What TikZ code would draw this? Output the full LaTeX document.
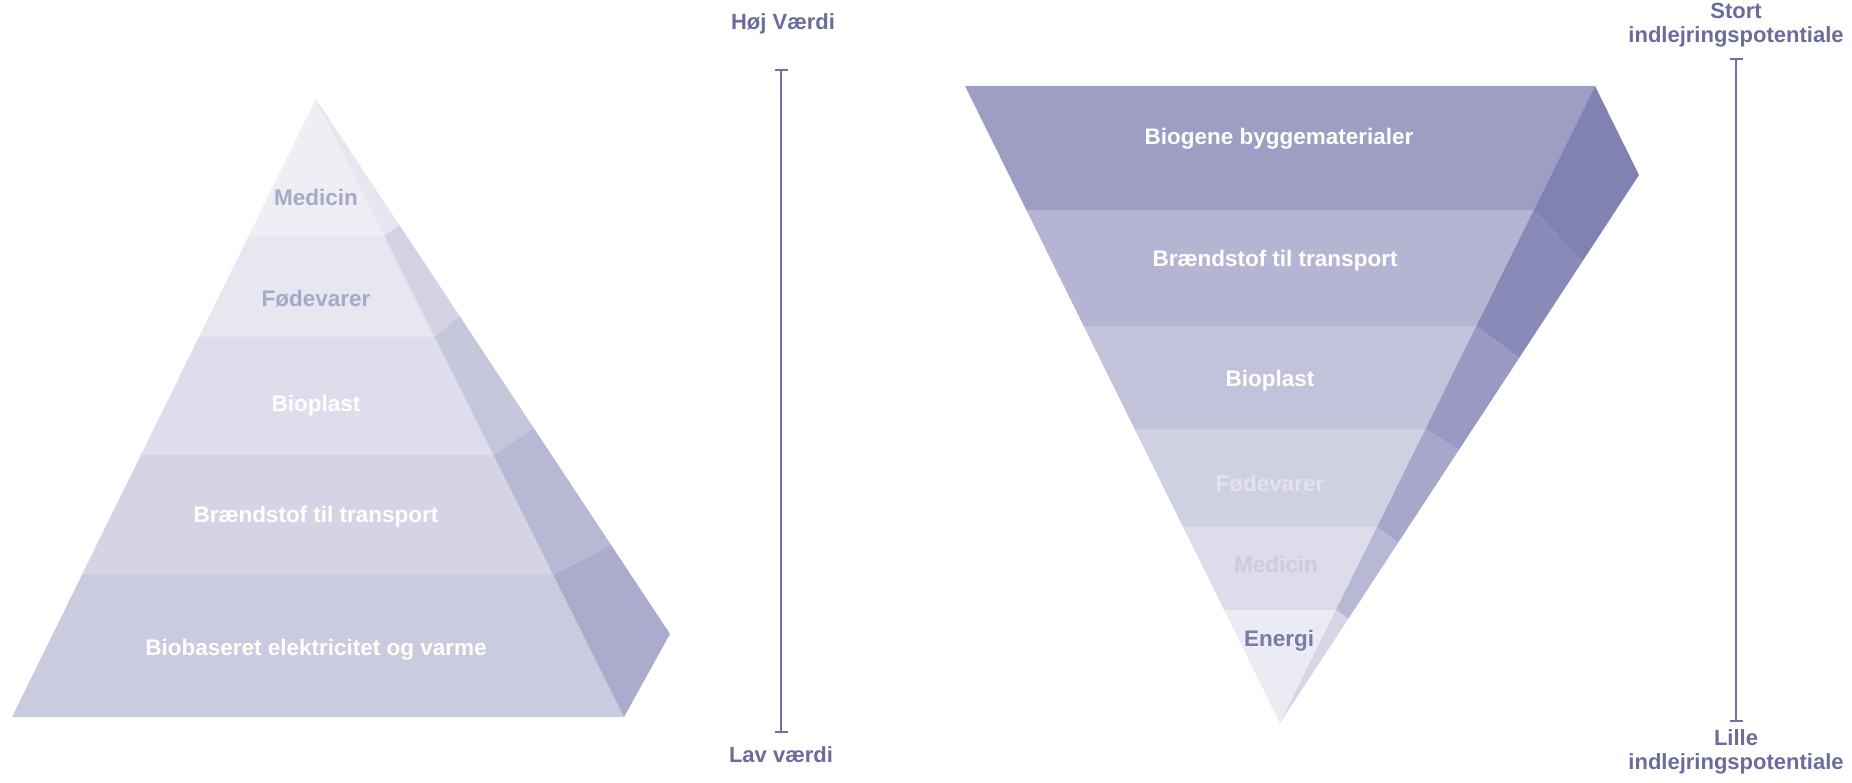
\documentclass[tikz,border=0pt]{standalone}
\usepackage{fontspec}
\setmainfont{Liberation Sans}
\usetikzlibrary{calc,arrows.meta}
% left pyramid front / side
\definecolor{lfa}{HTML}{EEEEF5}
\definecolor{lfb}{HTML}{E7E7F1}
\definecolor{lfc}{HTML}{DDDDEB}
\definecolor{lfd}{HTML}{D4D4E5}
\definecolor{lfe}{HTML}{CBCBE0}
\definecolor{lsa}{HTML}{E6E6F0}
\definecolor{lsb}{HTML}{D3D3E4}
\definecolor{lsc}{HTML}{C5C5DC}
\definecolor{lsd}{HTML}{B8B8D4}
\definecolor{lse}{HTML}{ABABCD}
% right pyramid front / side
\definecolor{rfa}{HTML}{9E9EC4}
\definecolor{rfb}{HTML}{B5B5D3}
\definecolor{rfc}{HTML}{C2C2DA}
\definecolor{rfd}{HTML}{D0D0E3}
\definecolor{rfe}{HTML}{DCDCEA}
\definecolor{rff}{HTML}{EBEBF3}
\definecolor{rsa}{HTML}{8282B2}
\definecolor{rsb}{HTML}{8A8AB8}
\definecolor{rsc}{HTML}{9999C3}
\definecolor{rsd}{HTML}{A7A7CC}
\definecolor{rse}{HTML}{B8B8D5}
\definecolor{rsf}{HTML}{D6D6E7}
% text colours
\definecolor{axc}{HTML}{6C6C9C}
\definecolor{barc}{HTML}{7070A6}
\definecolor{paletxt}{HTML}{A8A8C8}
\definecolor{fainttxt}{HTML}{E3E3EE}
\definecolor{medtxt}{HTML}{CCCCE0}
\definecolor{darktxt}{HTML}{7A7AA8}
\begin{document}
\begin{tikzpicture}[x=1pt,y=-1pt,
  lbl/.style={font=\bfseries\fontsize{22.5}{26}\selectfont, text=white, inner sep=0pt, anchor=center},
  axlbl/.style={font=\bfseries\fontsize{22}{23.5}\selectfont, text=axc, align=center, inner sep=0pt},
  scalebar/.style={draw=barc, line width=2.5pt, {Bar[width=13pt]}-{Bar[width=13pt]}},
]
\useasboundingbox (0,0) rectangle (1852,783);

% ---------------- left pyramid ----------------
\coordinate (A) at (316,99);
\coordinate (BL) at (12,717);
\coordinate (BR) at (624,717);
\coordinate (T) at (670,634);
\coordinate (L1) at ($(A)!0.2217!(BL)$);
\coordinate (L2) at ($(A)!0.3851!(BL)$);
\coordinate (L3) at ($(A)!0.5761!(BL)$);
\coordinate (L4) at ($(A)!0.7702!(BL)$);
\coordinate (R1) at ($(A)!0.2217!(BR)$);
\coordinate (R2) at ($(A)!0.3851!(BR)$);
\coordinate (R3) at ($(A)!0.5761!(BR)$);
\coordinate (R4) at ($(A)!0.7702!(BR)$);
\coordinate (K1) at ($(A)!0.2355!(T)$);
\coordinate (K2) at ($(A)!0.4056!(T)$);
\coordinate (K3) at ($(A)!0.6150!(T)$);
\coordinate (K4) at ($(A)!0.8336!(T)$);

\fill[lfa] (A) -- (R1) -- (L1) -- cycle;
\fill[lfb] (L1) -- (R1) -- (R2) -- (L2) -- cycle;
\fill[lfc] (L2) -- (R2) -- (R3) -- (L3) -- cycle;
\fill[lfd] (L3) -- (R3) -- (R4) -- (L4) -- cycle;
\fill[lfe] (L4) -- (R4) -- (BR) -- (BL) -- cycle;

\fill[lsa] (A) -- (K1) -- (R1) -- cycle;
\fill[lsb] (R1) -- (K1) -- (K2) -- (R2) -- cycle;
\fill[lsc] (R2) -- (K2) -- (K3) -- (R3) -- cycle;
\fill[lsd] (R3) -- (K3) -- (K4) -- (R4) -- cycle;
\fill[lse] (R4) -- (K4) -- (T) -- (BR) -- cycle;

\node[lbl, text=paletxt] (lmed) at (316,197) {Medicin};
\node[lbl, text=paletxt] (lfod) at (316,299) {Fødevarer};
\node[lbl] (lbio) at (316,406) {Bioplast};
\node[lbl] (lbra) at (316,517) {Brændstof til transport};
\node[lbl] (lele) at (316,650) {Biobaseret elektricitet og varme};

% ---------------- left scale ----------------
\node[axlbl] (hoj) at (783,24) {Høj Værdi};
\node[axlbl] (lav) at (781,755) {Lav værdi};
\coordinate (lt) at (781,69);
\coordinate (lb) at (781,733);
\draw[scalebar] (lt) -- (lb);

% ---------------- right pyramid ----------------
\coordinate (TL) at (965,86);
\coordinate (TR) at (1595,86);
\coordinate (P) at (1639,175);
\coordinate (V) at (1280,723);
\coordinate (M1) at ($(TL)!0.1947!(V)$);
\coordinate (M2) at ($(TL)!0.3768!(V)$);
\coordinate (M3) at ($(TL)!0.5385!(V)$);
\coordinate (M4) at ($(TL)!0.6923!(V)$);
\coordinate (M5) at ($(TL)!0.8226!(V)$);
\coordinate (N1) at ($(TR)!0.1947!(V)$);
\coordinate (N2) at ($(TR)!0.3768!(V)$);
\coordinate (N3) at ($(TR)!0.5385!(V)$);
\coordinate (N4) at ($(TR)!0.6923!(V)$);
\coordinate (N5) at ($(TR)!0.8226!(V)$);
\coordinate (Q1) at ($(P)!0.1588!(V)$);
\coordinate (Q2) at ($(P)!0.3339!(V)$);
\coordinate (Q3) at ($(P)!0.5018!(V)$);
\coordinate (Q4) at ($(P)!0.6715!(V)$);
\coordinate (Q5) at ($(P)!0.8102!(V)$);

\fill[rfa] (TL) -- (TR) -- (N1) -- (M1) -- cycle;
\fill[rfb] (M1) -- (N1) -- (N2) -- (M2) -- cycle;
\fill[rfc] (M2) -- (N2) -- (N3) -- (M3) -- cycle;
\fill[rfd] (M3) -- (N3) -- (N4) -- (M4) -- cycle;
\fill[rfe] (M4) -- (N4) -- (N5) -- (M5) -- cycle;
\fill[rff] (M5) -- (N5) -- (V) -- cycle;

\fill[rsa] (TR) -- (P) -- (Q1) -- (N1) -- cycle;
\fill[rsb] (N1) -- (Q1) -- (Q2) -- (N2) -- cycle;
\fill[rsc] (N2) -- (Q2) -- (Q3) -- (N3) -- cycle;
\fill[rsd] (N3) -- (Q3) -- (Q4) -- (N4) -- cycle;
\fill[rse] (N4) -- (Q4) -- (Q5) -- (N5) -- cycle;
\fill[rsf] (N5) -- (Q5) -- (V) -- cycle;

\node[lbl] (rbyg) at (1279,139) {Biogene byggematerialer};
\node[lbl] (rbra) at (1275,261) {Brændstof til transport};
\node[lbl] (rbio) at (1270,381) {Bioplast};
\node[lbl, text=fainttxt] (rfod) at (1270,484) {Fødevarer};
\node[lbl, text=medtxt] (rmed) at (1276,564) {Medicin};
\node[lbl, text=darktxt] (rene) at (1279,641) {Energi};

% ---------------- right scale ----------------
\node[axlbl] (stort) at (1736,25) {Stort\\indlejringspotentiale};
\node[axlbl] (lille) at (1736,752) {Lille\\indlejringspotentiale};
\coordinate (rt) at (1736,58);
\coordinate (rb) at (1736,722);
\draw[scalebar] (rt) -- (rb);
\end{tikzpicture}
\end{document}
